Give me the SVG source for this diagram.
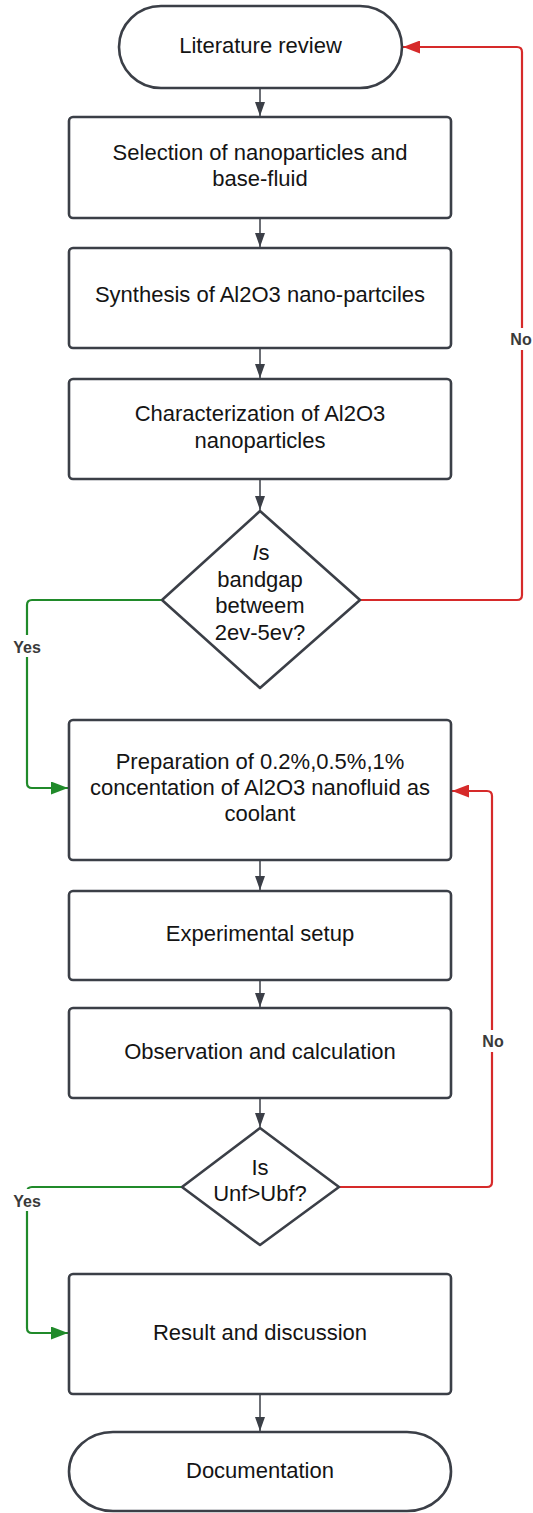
<svg xmlns="http://www.w3.org/2000/svg" width="533" height="1513" viewBox="0 0 533 1513">
<style>
.shape{fill:#ffffff;stroke:#3b3f47;stroke-width:2.6;stroke-linejoin:round}
.t{font-family:"Liberation Sans",Arial,sans-serif;font-size:22px;fill:#141414;text-anchor:middle}
.lbl{font-family:"Liberation Sans",Arial,sans-serif;font-size:16px;font-weight:bold;fill:#3a3a3a;text-anchor:middle}
.flow{fill:none;stroke:#3b3f47;stroke-width:1.5}
.no{fill:none;stroke:#d62a2a;stroke-width:2.2;stroke-linejoin:round}
.yes{fill:none;stroke:#208a2a;stroke-width:2.2;stroke-linejoin:round}
.lbg{fill:#ffffff}
</style>
<defs>
<marker id="ag" markerUnits="userSpaceOnUse" markerWidth="10" markerHeight="14" refX="10" refY="5" orient="auto">
<path d="M0,0 L10,5 L0,10 z" fill="#3b3f47" transform="translate(0,0)"/>
</marker>
<marker id="ar" markerUnits="userSpaceOnUse" markerWidth="17" markerHeight="13" refX="17" refY="6.5" orient="auto">
<path d="M0,0 L17,6.5 L0,13 z" fill="#d62a2a"/>
</marker>
<marker id="agr" markerUnits="userSpaceOnUse" markerWidth="17" markerHeight="13" refX="17" refY="6.5" orient="auto">
<path d="M0,0 L17,6.5 L0,13 z" fill="#208a2a"/>
</marker>
<marker id="ad" markerUnits="userSpaceOnUse" markerWidth="14" markerHeight="10" refX="14" refY="5" orient="auto">
<path d="M0,0 L14,5 L0,10 z" fill="#3b3f47"/>
</marker>
</defs>

<g id="connectors">
<path class="flow" d="M260,88 V116" marker-end="url(#ad)"/>
<path class="flow" d="M260,218 V247" marker-end="url(#ad)"/>
<path class="flow" d="M260,348 V378" marker-end="url(#ad)"/>
<path class="flow" d="M260,479 V510" marker-end="url(#ad)"/>
<path class="flow" d="M260,860 V890" marker-end="url(#ad)"/>
<path class="flow" d="M260,980 V1007" marker-end="url(#ad)"/>
<path class="flow" d="M260,1098 V1127" marker-end="url(#ad)"/>
<path class="flow" d="M260,1394 V1431" marker-end="url(#ad)"/>

<path class="no" d="M360,600 H517 Q522,600 522,595 V52 Q522,47 517,47 H403" marker-end="url(#ar)"/>
<rect class="lbg" x="509" y="328" width="24" height="22"/>
<text class="lbl" x="521" y="345">No</text>

<path class="yes" d="M162,600 H32 Q27,600 27,605 V783 Q27,788 32,788 H68" marker-end="url(#agr)"/>
<rect class="lbg" x="10" y="635" width="34" height="22"/>
<text class="lbl" x="27" y="653">Yes</text>

<path class="no" d="M339,1187 H487 Q492,1187 492,1182 V796 Q492,791 487,791 H452" marker-end="url(#ar)"/>
<rect class="lbg" x="480" y="1030" width="26" height="22"/>
<text class="lbl" x="493" y="1047">No</text>

<path class="yes" d="M182,1187 H32 Q27,1187 27,1192 V1328 Q27,1333 32,1333 H68" marker-end="url(#agr)"/>
<rect class="lbg" x="10" y="1189" width="34" height="22"/>
<text class="lbl" x="27" y="1207">Yes</text>
</g>

<g id="n1">
<rect class="shape" x="119" y="6" width="283" height="82" rx="42" ry="41"/>
<text class="t" x="260.5" y="53">Literature review</text>
</g>
<g id="n2">
<rect class="shape" x="69" y="117" width="382" height="101" rx="4"/>
<text class="t" x="260" y="160">Selection of nanoparticles and</text>
<text class="t" x="260" y="186">base-fluid</text>
</g>
<g id="n3">
<rect class="shape" x="69" y="248" width="382" height="100" rx="4"/>
<text class="t" x="260" y="302">Synthesis of Al2O3 nano-partciles</text>
</g>
<g id="n4">
<rect class="shape" x="69" y="379" width="382" height="100" rx="4"/>
<text class="t" x="260" y="421">Characterization of Al2O3</text>
<text class="t" x="260" y="448">nanoparticles</text>
</g>
<g id="n5">
<path class="shape" d="M260,511 L360,600 L260,688 L162,600 Z"/>
<text class="t" x="261" y="560"><tspan font-style="italic">I</tspan>s</text>
<text class="t" x="260" y="587">bandgap</text>
<text class="t" x="260" y="613">betweem</text>
<text class="t" x="260" y="640">2ev-5ev?</text>
</g>
<g id="n6">
<rect class="shape" x="69" y="720" width="382" height="140" rx="4"/>
<text class="t" x="260" y="769">Preparation of 0.2%,0.5%,1%</text>
<text class="t" x="260" y="795">concentation of Al2O3 nanofluid as</text>
<text class="t" x="260" y="821">coolant</text>
</g>
<g id="n7">
<rect class="shape" x="69" y="891" width="382" height="89" rx="4"/>
<text class="t" x="260" y="941">Experimental setup</text>
</g>
<g id="n8">
<rect class="shape" x="69" y="1008" width="382" height="90" rx="4"/>
<text class="t" x="260" y="1059">Observation and calculation</text>
</g>
<g id="n9">
<path class="shape" d="M260,1128 L339,1187 L260,1245 L182,1187 Z"/>
<text class="t" x="260" y="1175">Is</text>
<text class="t" x="260" y="1201">Unf&gt;Ubf?</text>
</g>
<g id="n10">
<rect class="shape" x="69" y="1274" width="382" height="120" rx="4"/>
<text class="t" x="260" y="1340">Result and discussion</text>
</g>
<g id="n11">
<rect class="shape" x="69" y="1432" width="382" height="79" rx="44" ry="39.5"/>
<text class="t" x="260" y="1478">Documentation</text>
</g>
</svg>
